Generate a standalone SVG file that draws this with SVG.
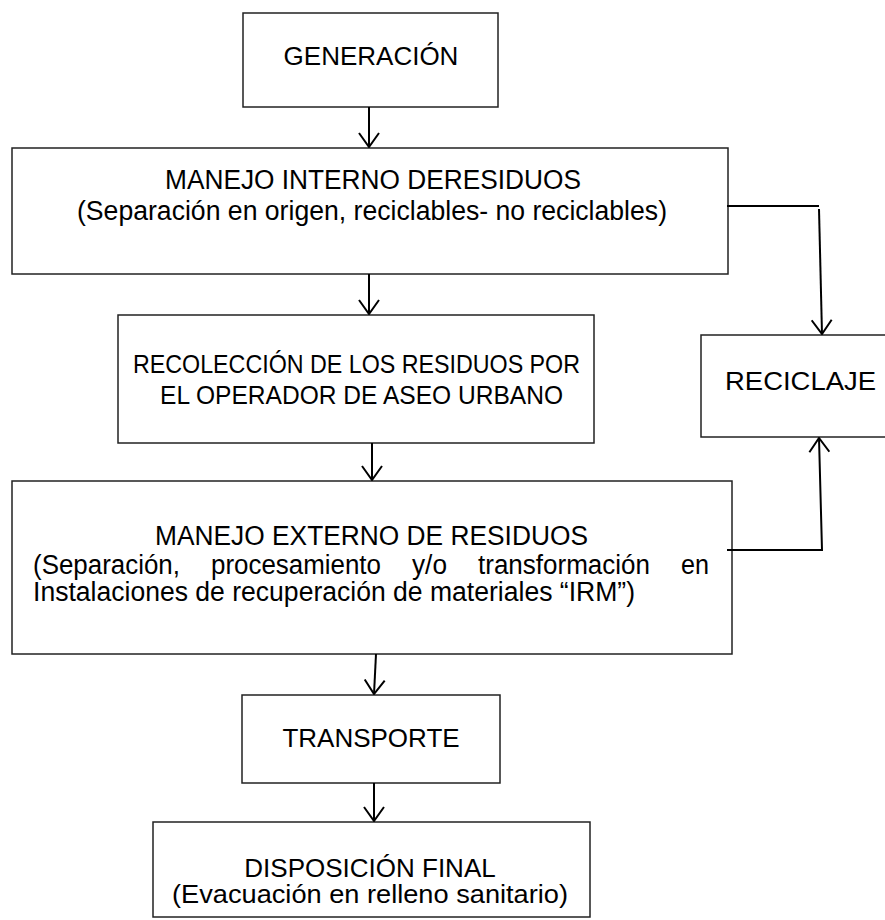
<svg xmlns="http://www.w3.org/2000/svg" width="885" height="920" viewBox="0 0 885 920">
<defs>
<marker id="v" viewBox="0 0 16 22" refX="15" refY="11" markerWidth="16" markerHeight="22" markerUnits="userSpaceOnUse" orient="auto">
<path d="M1,1 L15,11 L1,21" fill="none" stroke="#000" stroke-width="2"/>
</marker>
<style>
.box{fill:#fff;stroke:#222;stroke-width:1.5}
.t{font-family:"Liberation Sans",Arial,sans-serif;font-size:26px;fill:#000}
.m{font-size:27px}
.c{text-anchor:middle}
.ln{fill:none;stroke:#000;stroke-width:2}
</style>
</defs>
<rect width="885" height="920" fill="#fff"/>
<g id="generacion">
<rect class="box" x="243" y="13" width="255" height="94"/>
<text class="t c" x="371" y="65">GENERACIÓN</text>
</g>
<g id="manejo-interno">
<rect class="box" x="12" y="148" width="716" height="126"/>
<text class="t m" x="165" y="189" textLength="416" lengthAdjust="spacingAndGlyphs">MANEJO INTERNO DERESIDUOS</text>
<text class="t m" x="77" y="220" textLength="590" lengthAdjust="spacingAndGlyphs">(Separación en origen, reciclables- no reciclables)</text>
</g>
<g id="recoleccion">
<rect class="box" x="118" y="315" width="476" height="128"/>
<text class="t" x="133" y="373" textLength="447" lengthAdjust="spacingAndGlyphs">RECOLECCIÓN DE LOS RESIDUOS POR</text>
<text class="t" x="160" y="404" textLength="403" lengthAdjust="spacingAndGlyphs">EL OPERADOR DE ASEO URBANO</text>
</g>
<g id="reciclaje">
<rect class="box" x="701" y="335" width="200" height="102"/>
<text class="t" x="725" y="390" textLength="151" lengthAdjust="spacingAndGlyphs">RECICLAJE</text>
</g>
<g id="manejo-externo">
<rect class="box" x="12" y="481" width="720" height="173"/>
<text class="t m" x="155" y="545" textLength="433" lengthAdjust="spacingAndGlyphs">MANEJO EXTERNO DE RESIDUOS</text>
<text class="t m" x="33" y="574" textLength="147" lengthAdjust="spacingAndGlyphs">(Separación,</text>
<text class="t m" x="211" y="574" textLength="170" lengthAdjust="spacingAndGlyphs">procesamiento</text>
<text class="t m" x="412" y="574" textLength="35" lengthAdjust="spacingAndGlyphs">y/o</text>
<text class="t m" x="478" y="574" textLength="172" lengthAdjust="spacingAndGlyphs">transformación</text>
<text class="t m" x="681" y="574" textLength="28" lengthAdjust="spacingAndGlyphs">en</text>
<text class="t m" x="33" y="601" textLength="602" lengthAdjust="spacingAndGlyphs">Instalaciones de recuperación de materiales “IRM”)</text>
</g>
<g id="transporte">
<rect class="box" x="242" y="695" width="258" height="88"/>
<text class="t c" x="371" y="747">TRANSPORTE</text>
</g>
<g id="disposicion">
<rect class="box" x="153" y="822" width="437" height="95"/>
<text class="t c" x="370" y="877">DISPOSICIÓN FINAL</text>
<text class="t" x="172" y="903" textLength="396" lengthAdjust="spacingAndGlyphs">(Evacuación en relleno sanitario)</text>
</g>
<g id="connectors">
<line class="ln" x1="369" y1="107" x2="369" y2="147" marker-end="url(#v)"/>
<line class="ln" x1="369" y1="274" x2="369" y2="314" marker-end="url(#v)"/>
<line class="ln" x1="372" y1="443" x2="372" y2="480" marker-end="url(#v)"/>
<line class="ln" x1="376" y1="654" x2="374" y2="694" marker-end="url(#v)"/>
<line class="ln" x1="374" y1="783" x2="374" y2="821" marker-end="url(#v)"/>
<line class="ln" x1="727" y1="206" x2="819" y2="206"/>
<line class="ln" x1="819" y1="209" x2="822" y2="334" marker-end="url(#v)"/>
<polyline class="ln" points="727,550 822,550 819,438" marker-end="url(#v)"/>
</g>
</svg>
